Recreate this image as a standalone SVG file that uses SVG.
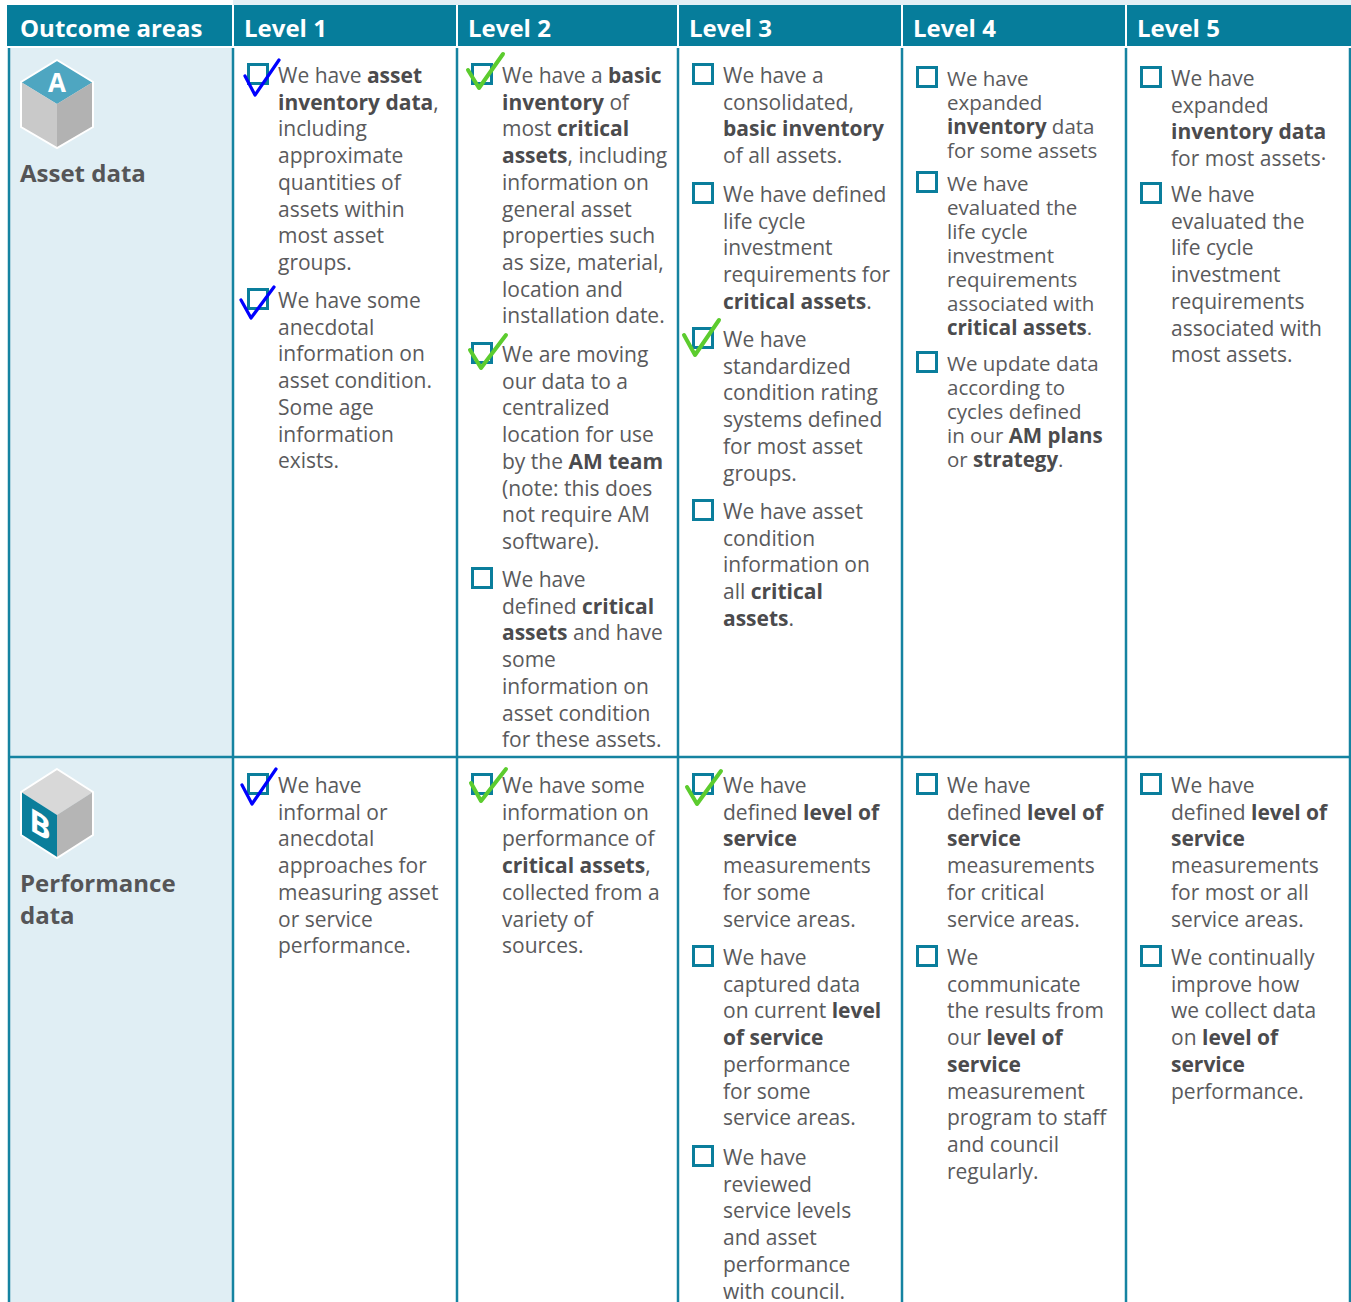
<svg xmlns="http://www.w3.org/2000/svg" width="1351" height="1302" viewBox="0 0 1351 1302">
<style>
.t{font-family:'Open Sans','Liberation Sans',sans-serif;font-size:21px;fill:#5a5a5c}
.s{font-size:20.5px}
.b{font-weight:700;fill:#4b4b4d}
.h{font-family:'Open Sans','Liberation Sans',sans-serif;font-size:24px;font-weight:700;fill:#ffffff}
.lab{font-family:'Open Sans','Liberation Sans',sans-serif;font-size:24px;font-weight:700;fill:#555557}
.cb{fill:none;stroke:#0a7e9c;stroke-width:3}
.ckb{fill:none;stroke:#0000ff;stroke-width:3.2;stroke-linecap:round;stroke-linejoin:round}
.ckg{fill:none;stroke:#5ccc2e;stroke-width:4;stroke-linecap:round;stroke-linejoin:round}
.grid{stroke:#1583a1;stroke-width:2.5;fill:none}
</style>
<rect width="1351" height="1302" fill="#ffffff"/>
<rect x="233" y="0" width="1118" height="5" fill="#e3eff5"/>
<rect x="9" y="48" width="224" height="1254" fill="#e0eef4"/>
<g id="header">
<rect x="7" y="5" width="1344" height="41" fill="#067d9b"/>
<g stroke="#ffffff" stroke-width="2">
<line x1="233" y1="5" x2="233" y2="46"/><line x1="457" y1="5" x2="457" y2="46"/><line x1="678" y1="5" x2="678" y2="46"/><line x1="902" y1="5" x2="902" y2="46"/><line x1="1126" y1="5" x2="1126" y2="46"/>
</g>
<text class="h" x="20" y="37">Outcome areas</text>
<text class="h" x="244" y="37">Level 1</text>
<text class="h" x="468" y="37">Level 2</text>
<text class="h" x="689" y="37">Level 3</text>
<text class="h" x="913" y="37">Level 4</text>
<text class="h" x="1137" y="37">Level 5</text>
</g>
<g id="grid" class="grid">
<line x1="9" y1="48" x2="9" y2="1302"/><line x1="233" y1="48" x2="233" y2="1302"/><line x1="457" y1="48" x2="457" y2="1302"/><line x1="678" y1="48" x2="678" y2="1302"/><line x1="902" y1="48" x2="902" y2="1302"/><line x1="1126" y1="48" x2="1126" y2="1302"/><line x1="1350" y1="48" x2="1350" y2="1302"/>
<line x1="8" y1="757" x2="1351" y2="757"/>
</g>
<g id="areaA">
<polygon points="57,60 93,82 57,104 21,82" fill="#4ea6c1"/>
<polygon points="21,82 57,104 57,148 21,127" fill="#c9c9c9"/>
<polygon points="57,104 93,82 93,127 57,148" fill="#b2b2b2"/>
<polygon points="57,60 93,82 93,127 57,148 21,127 21,82" fill="none" stroke="#ffffff" stroke-width="2"/>
<text x="57" y="92" text-anchor="middle" font-family="'Open Sans','Liberation Sans',sans-serif" font-size="26" font-weight="700" fill="#ffffff">A</text>
<text class="lab" x="20" y="182">Asset data</text>
</g>
<g id="areaB">
<polygon points="57,769 93,792 57,815 21,792" fill="#d8d8d8"/>
<polygon points="21,792 57,815 57,858 21,835" fill="#0b7e9b"/>
<polygon points="57,815 93,792 93,835 57,858" fill="#b5b5b5"/>
<polygon points="57,769 93,792 93,835 57,858 21,835 21,792" fill="none" stroke="#ffffff" stroke-width="2"/>
<text transform="translate(40,836) skewY(31)" text-anchor="middle" font-family="'Open Sans','Liberation Sans',sans-serif" font-size="32" font-weight="700" fill="#ffffff">B</text>
<text class="lab" x="20" y="892">Performance</text>
<text class="lab" x="20" y="924">data</text>
</g>
<g id="A1">
<rect class="cb" x="248.5" y="64.5" width="19" height="19"/>
<text class="t"><tspan x="278" y="83">We have <tspan class="b">asset</tspan></tspan><tspan x="278" y="109.7"><tspan class="b">inventory data</tspan>,</tspan><tspan x="278" y="136.4">including</tspan><tspan x="278" y="163.1">approximate</tspan><tspan x="278" y="189.8">quantities of</tspan><tspan x="278" y="216.5">assets within</tspan><tspan x="278" y="243.2">most asset</tspan><tspan x="278" y="269.9">groups.</tspan></text>
<path class="ckb" d="M245,76 L255,95 L279,60"/>
<rect class="cb" x="248.5" y="289.5" width="19" height="19"/>
<text class="t"><tspan x="278" y="308">We have some</tspan><tspan x="278" y="334.7">anecdotal</tspan><tspan x="278" y="361.4">information on</tspan><tspan x="278" y="388.1">asset condition.</tspan><tspan x="278" y="414.8">Some age</tspan><tspan x="278" y="441.5">information</tspan><tspan x="278" y="468.2">exists.</tspan></text>
<path class="ckb" d="M241,300 L251,318 L274,287"/>
</g>
<g id="A2">
<rect class="cb" x="472.5" y="64.5" width="19" height="19"/>
<text class="t"><tspan x="502" y="83">We have a <tspan class="b">basic</tspan></tspan><tspan x="502" y="109.7"><tspan class="b">inventory</tspan> of</tspan><tspan x="502" y="136.4">most <tspan class="b">critical</tspan></tspan><tspan x="502" y="163.1"><tspan class="b">assets</tspan>, including</tspan><tspan x="502" y="189.8">information on</tspan><tspan x="502" y="216.5">general asset</tspan><tspan x="502" y="243.2">properties such</tspan><tspan x="502" y="269.9">as size, material,</tspan><tspan x="502" y="296.6">location and</tspan><tspan x="502" y="323.3">installation date.</tspan></text>
<path class="ckg" d="M468,70 L479,88 L503,54"/>
<rect class="cb" x="472.5" y="343.5" width="19" height="19"/>
<text class="t"><tspan x="502" y="362">We are moving</tspan><tspan x="502" y="388.7">our data to a</tspan><tspan x="502" y="415.4">centralized</tspan><tspan x="502" y="442.1">location for use</tspan><tspan x="502" y="468.8">by the <tspan class="b">AM team</tspan></tspan><tspan x="502" y="495.5">(note: this does</tspan><tspan x="502" y="522.2">not require AM</tspan><tspan x="502" y="548.9">software).</tspan></text>
<path class="ckg" d="M470,350 L481,368 L506,335"/>
<rect class="cb" x="472.5" y="568.5" width="19" height="19"/>
<text class="t"><tspan x="502" y="587">We have</tspan><tspan x="502" y="613.7">defined <tspan class="b">critical</tspan></tspan><tspan x="502" y="640.4"><tspan class="b">assets</tspan> and have</tspan><tspan x="502" y="667.1">some</tspan><tspan x="502" y="693.8">information on</tspan><tspan x="502" y="720.5">asset condition</tspan><tspan x="502" y="747.2">for these assets.</tspan></text>
</g>
<g id="A3">
<rect class="cb" x="693.5" y="64.5" width="19" height="19"/>
<text class="t"><tspan x="723" y="83">We have a</tspan><tspan x="723" y="109.7">consolidated,</tspan><tspan x="723" y="136.4" class="b">basic inventory</tspan><tspan x="723" y="163.1">of all assets.</tspan></text>
<rect class="cb" x="693.5" y="183.5" width="19" height="19"/>
<text class="t"><tspan x="723" y="202">We have defined</tspan><tspan x="723" y="228.7">life cycle</tspan><tspan x="723" y="255.4">investment</tspan><tspan x="723" y="282.1">requirements for</tspan><tspan x="723" y="308.8"><tspan class="b">critical assets</tspan>.</tspan></text>
<rect class="cb" x="693.5" y="328.5" width="19" height="19"/>
<text class="t"><tspan x="723" y="347">We have</tspan><tspan x="723" y="373.7">standardized</tspan><tspan x="723" y="400.4">condition rating</tspan><tspan x="723" y="427.1">systems defined</tspan><tspan x="723" y="453.8">for most asset</tspan><tspan x="723" y="480.5">groups.</tspan></text>
<path class="ckg" d="M684,335 L695,355 L719,320"/>
<rect class="cb" x="693.5" y="500.5" width="19" height="19"/>
<text class="t"><tspan x="723" y="519">We have asset</tspan><tspan x="723" y="545.7">condition</tspan><tspan x="723" y="572.4">information on</tspan><tspan x="723" y="599.1">all <tspan class="b">critical</tspan></tspan><tspan x="723" y="625.8"><tspan class="b">assets</tspan>.</tspan></text>
</g>
<g id="A4">
<rect class="cb" x="917.5" y="67.5" width="19" height="19"/>
<text class="t s"><tspan x="947" y="86">We have</tspan><tspan x="947" y="110">expanded</tspan><tspan x="947" y="134"><tspan class="b">inventory</tspan> data</tspan><tspan x="947" y="158">for some assets</tspan></text>
<rect class="cb" x="917.5" y="172.5" width="19" height="19"/>
<text class="t s"><tspan x="947" y="191">We have</tspan><tspan x="947" y="215">evaluated the</tspan><tspan x="947" y="239">life cycle</tspan><tspan x="947" y="263">investment</tspan><tspan x="947" y="287">requirements</tspan><tspan x="947" y="311">associated with</tspan><tspan x="947" y="335"><tspan class="b">critical assets</tspan>.</tspan></text>
<rect class="cb" x="917.5" y="352.5" width="19" height="19"/>
<text class="t s"><tspan x="947" y="371">We update data</tspan><tspan x="947" y="395">according to</tspan><tspan x="947" y="419">cycles defined</tspan><tspan x="947" y="443">in our <tspan class="b">AM plans</tspan></tspan><tspan x="947" y="467">or <tspan class="b">strategy</tspan>.</tspan></text>
</g>
<g id="A5">
<rect class="cb" x="1141.5" y="67.5" width="19" height="19"/>
<text class="t"><tspan x="1171" y="86">We have</tspan><tspan x="1171" y="112.7">expanded</tspan><tspan x="1171" y="139.4" class="b">inventory data</tspan><tspan x="1171" y="166.1">for most assets·</tspan></text>
<rect class="cb" x="1141.5" y="183.5" width="19" height="19"/>
<text class="t"><tspan x="1171" y="202">We have</tspan><tspan x="1171" y="228.7">evaluated the</tspan><tspan x="1171" y="255.4">life cycle</tspan><tspan x="1171" y="282.1">investment</tspan><tspan x="1171" y="308.8">requirements</tspan><tspan x="1171" y="335.5">associated with</tspan><tspan x="1171" y="362.2">most assets.</tspan></text>
</g>
<g id="B1">
<rect class="cb" x="248.5" y="774.5" width="19" height="19"/>
<text class="t"><tspan x="278" y="793">We have</tspan><tspan x="278" y="819.7">informal or</tspan><tspan x="278" y="846.4">anecdotal</tspan><tspan x="278" y="873.1">approaches for</tspan><tspan x="278" y="899.8">measuring asset</tspan><tspan x="278" y="926.5">or service</tspan><tspan x="278" y="953.2">performance.</tspan></text>
<path class="ckb" d="M242,785 L252,804 L276,769"/>
</g>
<g id="B2">
<rect class="cb" x="472.5" y="774.5" width="19" height="19"/>
<text class="t"><tspan x="502" y="793">We have some</tspan><tspan x="502" y="819.7">information on</tspan><tspan x="502" y="846.4">performance of</tspan><tspan x="502" y="873.1"><tspan class="b">critical assets</tspan>,</tspan><tspan x="502" y="899.8">collected from a</tspan><tspan x="502" y="926.5">variety of</tspan><tspan x="502" y="953.2">sources.</tspan></text>
<path class="ckg" d="M471,783 L481,801 L506,769"/>
</g>
<g id="B3">
<rect class="cb" x="693.5" y="774.5" width="19" height="19"/>
<text class="t"><tspan x="723" y="793">We have</tspan><tspan x="723" y="819.7">defined <tspan class="b">level of</tspan></tspan><tspan x="723" y="846.4" class="b">service</tspan><tspan x="723" y="873.1">measurements</tspan><tspan x="723" y="899.8">for some</tspan><tspan x="723" y="926.5">service areas.</tspan></text>
<path class="ckg" d="M687,787 L697,804 L721,771"/>
<rect class="cb" x="693.5" y="946.5" width="19" height="19"/>
<text class="t"><tspan x="723" y="965">We have</tspan><tspan x="723" y="991.7">captured data</tspan><tspan x="723" y="1018.4">on current <tspan class="b">level</tspan></tspan><tspan x="723" y="1045.1" class="b">of service</tspan><tspan x="723" y="1071.8">performance</tspan><tspan x="723" y="1098.5">for some</tspan><tspan x="723" y="1125.2">service areas.</tspan></text>
<rect class="cb" x="693.5" y="1146.5" width="19" height="19"/>
<text class="t"><tspan x="723" y="1165">We have</tspan><tspan x="723" y="1191.7">reviewed</tspan><tspan x="723" y="1218.4">service levels</tspan><tspan x="723" y="1245.1">and asset</tspan><tspan x="723" y="1271.8">performance</tspan><tspan x="723" y="1298.5">with council.</tspan></text>
</g>
<g id="B4">
<rect class="cb" x="917.5" y="774.5" width="19" height="19"/>
<text class="t"><tspan x="947" y="793">We have</tspan><tspan x="947" y="819.7">defined <tspan class="b">level of</tspan></tspan><tspan x="947" y="846.4" class="b">service</tspan><tspan x="947" y="873.1">measurements</tspan><tspan x="947" y="899.8">for critical</tspan><tspan x="947" y="926.5">service areas.</tspan></text>
<rect class="cb" x="917.5" y="946.5" width="19" height="19"/>
<text class="t"><tspan x="947" y="965">We</tspan><tspan x="947" y="991.7">communicate</tspan><tspan x="947" y="1018.4">the results from</tspan><tspan x="947" y="1045.1">our <tspan class="b">level of</tspan></tspan><tspan x="947" y="1071.8" class="b">service</tspan><tspan x="947" y="1098.5">measurement</tspan><tspan x="947" y="1125.2">program to staff</tspan><tspan x="947" y="1151.9">and council</tspan><tspan x="947" y="1178.6">regularly.</tspan></text>
</g>
<g id="B5">
<rect class="cb" x="1141.5" y="774.5" width="19" height="19"/>
<text class="t"><tspan x="1171" y="793">We have</tspan><tspan x="1171" y="819.7">defined <tspan class="b">level of</tspan></tspan><tspan x="1171" y="846.4" class="b">service</tspan><tspan x="1171" y="873.1">measurements</tspan><tspan x="1171" y="899.8">for most or all</tspan><tspan x="1171" y="926.5">service areas.</tspan></text>
<rect class="cb" x="1141.5" y="946.5" width="19" height="19"/>
<text class="t"><tspan x="1171" y="965">We continually</tspan><tspan x="1171" y="991.7">improve how</tspan><tspan x="1171" y="1018.4">we collect data</tspan><tspan x="1171" y="1045.1">on <tspan class="b">level of</tspan></tspan><tspan x="1171" y="1071.8" class="b">service</tspan><tspan x="1171" y="1098.5">performance.</tspan></text>
</g>
</svg>
